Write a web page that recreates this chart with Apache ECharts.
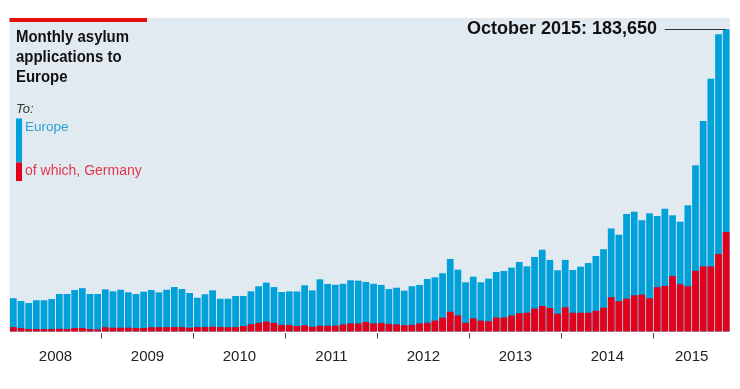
<!DOCTYPE html>
<html><head><meta charset="utf-8">
<script src="https://cdn.jsdelivr.net/npm/echarts@6/dist/echarts.min.js"></script>
<style>html,body{margin:0;padding:0;background:#fff}#c{width:740px;height:389px}</style>
</head><body><div id="c"></div>
<script>
const startYear = 2008;
const yearMonthCounts = [12,12,12,12,12,12,12,10];
const categories = [];
yearMonthCounts.forEach((n, yi) => { for (let m = 1; m <= n; m++) categories.push((startYear + yi) + '-' + String(m).padStart(2,'0')); });
const yearStartIdx = [12,24,36,48,60,72,84];

const europe = [20200,18500,17300,19000,19000,19700,22800,22800,25200,26300,22800,22800,
25600,24400,25400,23800,22800,24200,25200,23800,25400,27000,25800,23400,
20500,22600,25000,19900,19900,21600,21600,24400,27500,29700,27000,24000,
24400,24300,28100,25000,31700,28900,28400,29000,31100,30900,30100,29000,
28300,25800,26600,24800,27500,28300,31900,32900,35400,44100,37600,29900,
33300,29900,32100,36200,36800,38800,42200,39600,45300,49700,43500,37200,
43500,37400,39400,41600,45900,50000,62600,58800,71400,72800,67600,71800,
70200,74600,70600,66700,76700,101000,127900,153600,180600,183650];

const germany = [2700,2100,1500,1500,1500,1500,1700,1500,2100,2100,1500,1300,
2600,2300,2300,2300,2100,2100,2600,2600,2700,2700,2700,2300,
2700,2700,2900,2700,2600,2700,3300,4400,5300,6000,5300,4000,
4000,3300,3800,2900,3500,3500,3500,4300,4900,4900,5800,4900,
5200,4600,4300,3800,4000,4900,5300,6600,8400,12000,9800,5300,
8000,6600,6200,8500,8500,9700,11100,11400,13900,15500,14300,10800,
14700,11400,11400,11400,12600,14500,20800,18500,19900,22000,22400,20200,
26900,27700,33700,28700,27500,36900,39600,39500,47100,60500];

const titleLines = ['Monthly asylum', 'applications to', 'Europe'];
const legendLabels = ['Europe', 'of which, Germany'];
const lastIdx = europe.length - 1;
const annotation = 'October 2015: ' + europe[lastIdx].toLocaleString('en-US');

const BLUE = '#00a0d9', RED = '#e3001b';
const chart = echarts.init(document.getElementById('c'), null, {renderer: 'canvas'});
const bandW = 720.5 / categories.length;

chart.setOption({
  animation: false,
  grid: {left: 9.5, right: 10, top: 18, bottom: 57.5, show: true, backgroundColor: '#e1eaf0', borderWidth: 0},
  xAxis: {
    type: 'category', data: categories,
    axisLine: {show: false},
    axisTick: {show: false},
    axisLabel: {
      interval: (i, v) => { const y = +v.slice(0,4), m = +v.slice(5); return (y < 2015 && m === 7) || (y === 2015 && m === 6); },
      formatter: (v) => v.slice(0,4),
      padding: [0, bandW, 0, 0],
      color: '#222', fontSize: 15, fontFamily: 'Liberation Sans, Arial, sans-serif', margin: 18
    }
  },
  yAxis: {type: 'value', min: 0, max: 190500, show: false, splitLine: {show: false}},
  series: [
    {type: 'bar', data: europe, itemStyle: {color: BLUE}, barCategoryGap: '12%', barGap: '-100%',
     markLine: {symbol: 'none', silent: true, label: {show: false}, lineStyle: {color: '#333', width: 1, type: 'solid'},
       data: [[{coord: [categories[lastIdx - 8], europe[lastIdx]]}, {coord: [categories[lastIdx], europe[lastIdx]]}]]}},
    {type: 'bar', data: germany, itemStyle: {color: RED}, barCategoryGap: '12%', barGap: '-100%'},
    {type: 'custom', silent: true, clip: false, data: yearStartIdx.map(i => [i, 0]),
     renderItem: (params, api) => {
       const p = api.coord([api.value(0), 0]);
       const w = api.size([1, 0])[0];
       const x = Math.round(p[0] - w / 2) + 0.5;
       return {type: 'line', shape: {x1: x, y1: p[1] + 1.5, x2: x, y2: p[1] + 7}, style: {stroke: '#444', lineWidth: 1}};
     }}
  ],
  graphic: [
    {type: 'rect', shape: {x: 9.5, y: 18, width: 137.5, height: 4}, style: {fill: '#e3120b'}},
    ...titleLines.map((t, i) => ({type: 'text', x: 16, y: 37.3 + 20 * i, scaleX: 0.88,
      style: {text: t, x: 0, y: 0, align: 'left', verticalAlign: 'middle',
      textAlign: 'left', textVerticalAlign: 'middle', font: 'bold 17px "Liberation Sans", Arial, sans-serif', fill: '#111'}})),
    {type: 'text', style: {text: 'To:', x: 16, y: 109, align: 'left', verticalAlign: 'middle', textAlign: 'left', textVerticalAlign: 'middle',
      font: 'italic 13px "Liberation Sans", Arial, sans-serif', fill: '#333'}},
    {type: 'rect', shape: {x: 16, y: 118.5, width: 6, height: 44}, style: {fill: BLUE}},
    {type: 'rect', shape: {x: 16, y: 162.5, width: 6, height: 18.5}, style: {fill: RED}},
    {type: 'text', style: {text: legendLabels[0], x: 25, y: 127.5, align: 'left', verticalAlign: 'middle', textAlign: 'left', textVerticalAlign: 'middle',
      font: '13.5px "Liberation Sans", Arial, sans-serif', fill: '#2ba0d8'}},
    {type: 'text', style: {text: legendLabels[1], x: 25, y: 171.5, align: 'left', verticalAlign: 'middle', textAlign: 'left', textVerticalAlign: 'middle',
      font: '14px "Liberation Sans", Arial, sans-serif', fill: '#e6354c'}},
    {type: 'text', style: {text: annotation, x: 657, y: 28.7, align: 'right', verticalAlign: 'middle', textAlign: 'right', textVerticalAlign: 'middle',
      font: 'bold 18px "Liberation Sans", Arial, sans-serif', fill: '#111'}}
  ]
});
</script></body></html>
